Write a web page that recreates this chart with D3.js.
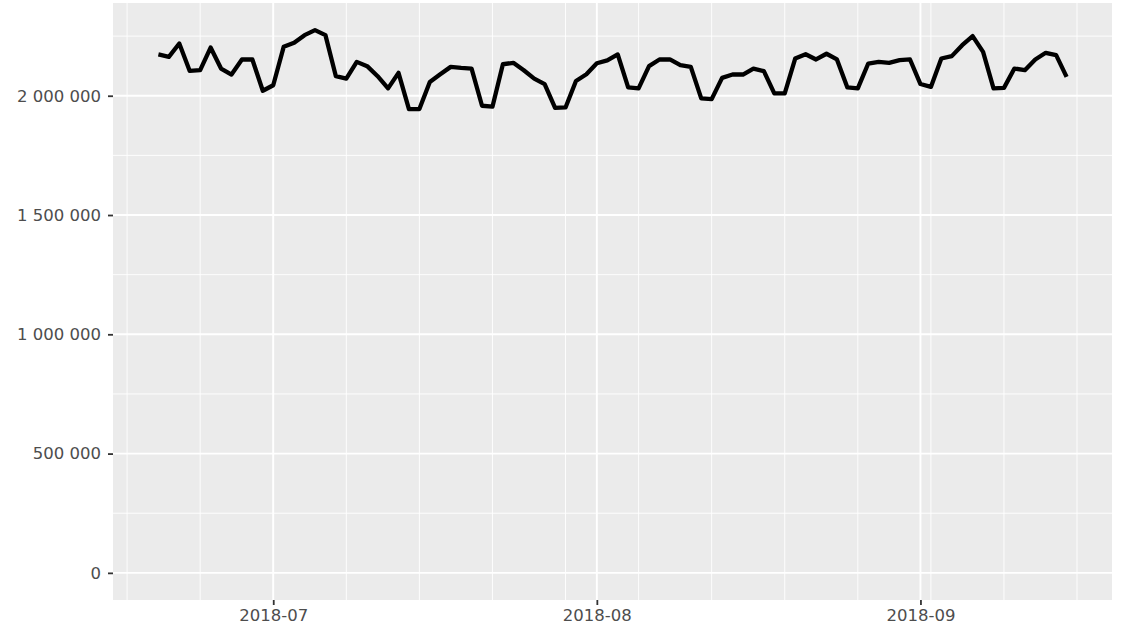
<!DOCTYPE html>
<html>
<head>
<meta charset="utf-8">
<script src="https://cdn.jsdelivr.net/npm/d3@7"></script>
<style>
  html, body { margin: 0; padding: 0; background: #fff; }
  svg { display: block; }
</style>
</head>
<body>
<svg id="chart" width="1132" height="627"></svg>
<script>
// Daily series, 2018-06-20 .. 2018-09-15
const startDay = new Date(Date.UTC(2018, 5, 20));
const endDay = new Date(Date.UTC(2018, 8, 15));

const juneValues = [2173000, 2163000, 2219000, 2104000, 2107000, 2202000, 2114000, 2089000, 2152000, 2152000, 2021000];
const julyValues = [2044000, 2205000, 2222000, 2254000, 2275000, 2254000, 2082000, 2072000, 2142000, 2124000,
  2082000, 2031000, 2096000, 1944000, 1944000, 2058000, 2090000, 2121000, 2117000, 2114000,
  1958000, 1954000, 2132000, 2138000, 2107000, 2072000, 2049000, 1949000, 1951000, 2062000, 2090000];
const augustValues = [2136000, 2148000, 2173000, 2035000, 2031000, 2124000, 2152000, 2152000, 2128000, 2121000,
  1989000, 1986000, 2075000, 2089000, 2089000, 2114000, 2103000, 2010000, 2010000, 2156000,
  2174000, 2152000, 2176000, 2152000, 2035000, 2031000, 2135000, 2142000, 2138000, 2149000, 2152000];
const septemberValues = [2049000, 2037000, 2156000, 2166000, 2212000, 2250000, 2184000, 2031000, 2033000, 2114000,
  2107000, 2152000, 2180000, 2170000, 2079000];

const yMajorTicks = [0, 500000, 1000000, 1500000, 2000000];
const yMinorTicks = [250000, 750000, 1250000, 1750000, 2250000];
const xMajorTicks = [new Date(Date.UTC(2018, 6, 1)), new Date(Date.UTC(2018, 7, 1)), new Date(Date.UTC(2018, 8, 1))];

const values = [...juneValues, ...julyValues, ...augustValues, ...septemberValues];
const days = d3.utcDays(startDay, d3.utcDay.offset(endDay, 1));
const data = days.map((d, i) => ({ date: d, value: values[i] }));

// layout
const width = 1132, height = 627;
const margin = { top: 3, right: 20, bottom: 27, left: 113 };
const svg = d3.select("#chart");

// ggplot-style 5% expansion
const xSpan = endDay - startDay;
const x = d3.scaleUtc()
  .domain([new Date(+startDay - xSpan * 0.05), new Date(+endDay + xSpan * 0.05)])
  .range([margin.left, width - margin.right]);

const yMax = d3.max(values);
const y = d3.scaleLinear()
  .domain([-yMax * 0.05, yMax * 1.05])
  .range([height - margin.bottom, margin.top]);

const fmt = d3.formatLocale({ decimal: ".", thousands: " ", grouping: [3], currency: ["", ""] }).format(",");

// panel
svg.append("rect")
  .attr("x", margin.left)
  .attr("y", margin.top)
  .attr("width", width - margin.left - margin.right)
  .attr("height", height - margin.top - margin.bottom)
  .attr("fill", "#EBEBEB");

const grid = svg.append("g");

// minor gridlines
const weekLines = d3.utcSunday.range(x.domain()[0], x.domain()[1]);
grid.selectAll(".vminor").data(weekLines).join("line")
  .attr("x1", d => x(d)).attr("x2", d => x(d))
  .attr("y1", margin.top).attr("y2", height - margin.bottom)
  .attr("stroke", "#fff").attr("stroke-width", 0.9);

grid.selectAll(".hminor").data(yMinorTicks).join("line")
  .attr("x1", margin.left).attr("x2", width - margin.right)
  .attr("y1", d => y(d)).attr("y2", d => y(d))
  .attr("stroke", "#fff").attr("stroke-width", 0.9);

// major gridlines
grid.selectAll(".vmajor").data(xMajorTicks).join("line")
  .attr("x1", d => x(d)).attr("x2", d => x(d))
  .attr("y1", margin.top).attr("y2", height - margin.bottom)
  .attr("stroke", "#fff").attr("stroke-width", 1.9);

grid.selectAll(".hmajor").data(yMajorTicks).join("line")
  .attr("x1", margin.left).attr("x2", width - margin.right)
  .attr("y1", d => y(d)).attr("y2", d => y(d))
  .attr("stroke", "#fff").attr("stroke-width", 1.9);

// the line
const line = d3.line()
  .x(d => x(d.date))
  .y(d => y(d.value));

svg.append("path")
  .datum(data)
  .attr("fill", "none")
  .attr("stroke", "#000")
  .attr("stroke-width", 4.3)
  .attr("stroke-linejoin", "round")
  .attr("d", line);

// axes
const xAxis = svg.append("g")
  .attr("transform", `translate(0,${height - margin.bottom})`)
  .call(d3.axisBottom(x).tickValues(xMajorTicks).tickFormat(d3.utcFormat("%Y-%m")).tickSize(5).tickPadding(4));

const yAxis = svg.append("g")
  .attr("transform", `translate(${margin.left},0)`)
  .call(d3.axisLeft(y).tickValues(yMajorTicks).tickFormat(fmt).tickSize(5).tickPadding(7));

[xAxis, yAxis].forEach(g => {
  g.select(".domain").remove();
  g.selectAll(".tick line").attr("stroke", "#333").attr("stroke-width", 1.8);
  g.selectAll(".tick text")
    .attr("fill", "#4D4D4D")
    .style("font-family", "'DejaVu Sans', sans-serif")
    .style("font-size", "16.5px");
});
</script>
</body>
</html>
